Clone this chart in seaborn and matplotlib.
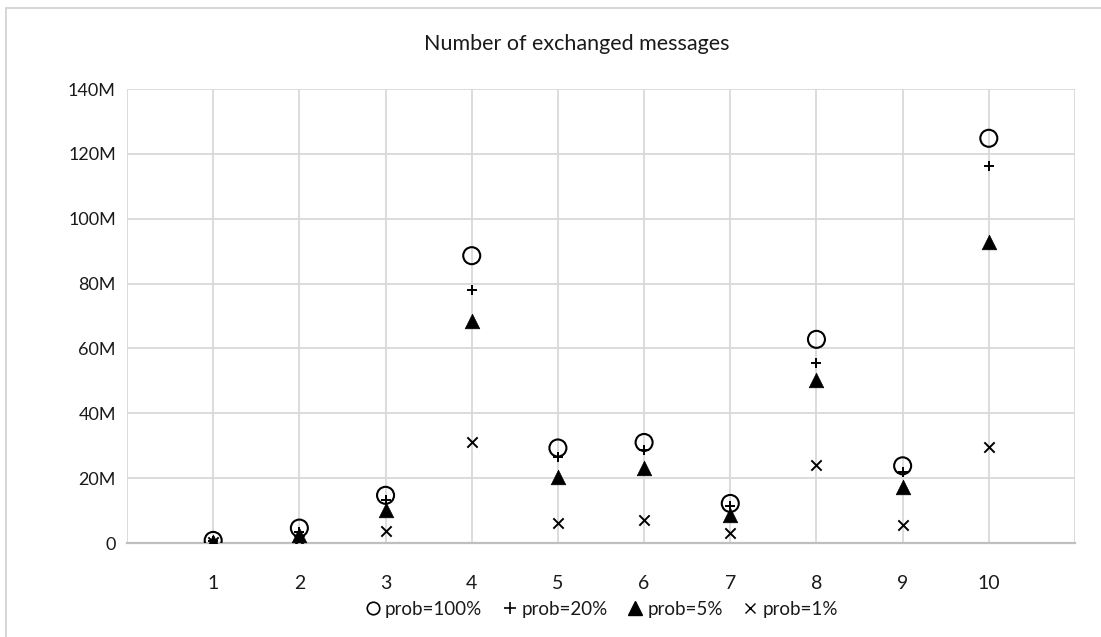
import matplotlib
matplotlib.use("Agg")
import matplotlib.pyplot as plt
import seaborn as sns
import pandas as pd
from matplotlib.lines import Line2D

# Data (messages, in millions)
runs = [1, 2, 3, 4, 5, 6, 7, 8, 9, 10]
prob_100 = [0.8, 4.6, 14.7, 88.6, 29.3, 31.0, 12.2, 62.8, 23.8, 124.8]
prob_20 = [0.6, 3.5, 13.2, 78.0, 26.5, 28.6, 11.4, 55.6, 21.9, 116.4]
prob_5 = [0.4, 2.5, 10.1, 68.5, 20.4, 23.0, 8.5, 50.4, 17.3, 92.9]
prob_1 = [0.2, 0.8, 3.6, 31.2, 6.3, 7.0, 3.2, 24.2, 5.5, 29.6]
series_labels = ["prob=100%", "prob=20%", "prob=5%", "prob=1%"]
y_ticks = [0, 20, 40, 60, 80, 100, 120, 140]
y_tick_labels = ["0", "20M", "40M", "60M", "80M", "100M", "120M", "140M"]

sns.set_theme(style="white")
plt.rcParams["font.family"] = ["Lato", "DejaVu Sans"]

fig = plt.figure(figsize=(11.01, 6.37), dpi=100)
ax = fig.add_axes([127 / 1101, 1 - 543 / 637, (1075 - 127) / 1101, (543 - 89) / 637])

df = pd.DataFrame({"run": runs, "p100": prob_100, "p20": prob_20,
                   "p5": prob_5, "p1": prob_1})

sns.scatterplot(data=df, x="run", y="p100", marker="o", s=150,
                facecolors="none", edgecolor="black", linewidth=1.5,
                ax=ax, zorder=3)
sns.scatterplot(data=df, x="run", y="p20", marker="+", s=55,
                color="black", linewidth=1.4, ax=ax, zorder=4)
sns.scatterplot(data=df, x="run", y="p5", marker="^", s=110,
                color="black", edgecolor="black", linewidth=0.5,
                ax=ax, zorder=3)
sns.scatterplot(data=df, x="run", y="p1", marker="x", s=55,
                color="black", linewidth=1.4, ax=ax, zorder=3)

grid_color = "#d9d9d9"
ax.set_xlim(0, 11)
ax.set_ylim(0, 140)
ax.set_xticks(range(0, 12))
ax.set_xticklabels([""] + [str(r) for r in runs] + [""])
ax.set_yticks(y_ticks)
ax.set_yticklabels(y_tick_labels)
ax.grid(True, color=grid_color, linewidth=1.3)
ax.set_axisbelow(True)
ax.tick_params(axis="x", length=0, pad=23, labelsize=14, colors="#1a1a1a")
ax.tick_params(axis="y", length=0, pad=8, labelsize=13, colors="#1a1a1a")
for side in ["left", "right", "top"]:
    ax.spines[side].set_visible(False)
ax.spines["bottom"].set_color("#bfbfbf")
ax.spines["bottom"].set_linewidth(1.6)
ax.set_xlabel("")
ax.set_ylabel("")

fig.text(577 / 1101, 1 - 44 / 637, "Number of exchanged messages",
         ha="center", va="center", fontsize=15.5, color="#1a1a1a")

handles = [
    Line2D([], [], linestyle="none", marker="o", markersize=9,
           markerfacecolor="none", markeredgecolor="black", markeredgewidth=1.2),
    Line2D([], [], linestyle="none", marker="+", markersize=9,
           color="black", markeredgewidth=1.2),
    Line2D([], [], linestyle="none", marker="^", markersize=10, color="black"),
    Line2D([], [], linestyle="none", marker="x", markersize=7,
           color="black", markeredgewidth=1.0),
]
fig.legend(handles, series_labels, loc="center", ncol=4,
           bbox_to_anchor=(602 / 1101, 1 - 609 / 637), frameon=False,
           fontsize=13.5, handlelength=0.7, handletextpad=0.3,
           columnspacing=1.1, labelcolor="#1a1a1a")

# light sheet border along the top and left
fig.add_artist(Line2D([6 / 1101, 1], [1 - 8 / 637, 1 - 8 / 637],
                      transform=fig.transFigure, color="#d0d0d0", linewidth=1.2))
fig.add_artist(Line2D([6 / 1101, 6 / 1101], [0, 1 - 8 / 637],
                      transform=fig.transFigure, color="#d0d0d0", linewidth=1.2))

fig.savefig("out.png", dpi=100, facecolor="white")
